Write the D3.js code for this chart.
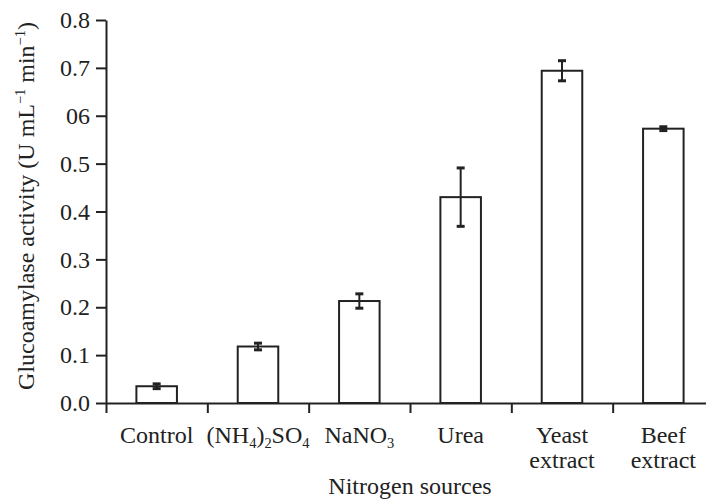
<!DOCTYPE html>
<html>
<head>
<meta charset="utf-8">
<script src="https://cdn.jsdelivr.net/npm/d3@7"></script>
<style>
  html, body { margin: 0; padding: 0; background: #fff; }
  svg { display: block; }
  text { font-family: "Liberation Serif", "Times New Roman", serif; fill: #222; }
</style>
</head>
<body>
<svg id="chart" width="706" height="499"></svg>
<script>
// ---- data ----
const categories = ["Control", "(NH4)2SO4", "NaNO3", "Urea", "Yeast extract", "Beef extract"];
const activity = [0.035, 0.118, 0.213, 0.430, 0.694, 0.573];
const errors = [0.005, 0.007, 0.015, 0.061, 0.021, 0.004];
const yTickValues = [0, 0.1, 0.2, 0.3, 0.4, 0.5, 0.6, 0.7, 0.8];
const yTickLabels = ["0.0", "0.1", "0.2", "0.3", "0.4", "0.5", "06", "0.7", "0.8"];
const xTitle = "Nitrogen sources";

// ---- layout ----
const svg = d3.select("#chart");
const mLeft = 106, mRight = 714, mTop = 20, mBottom = 403;
const ink = "#222";
const fs = 24;

const x = d3.scaleBand().domain(categories).range([mLeft, mRight])
  .paddingInner(0.6).paddingOuter(0.3);
const xEdge = d3.scaleLinear().domain([0, categories.length]).range([mLeft, mRight]);
const y = d3.scaleLinear().domain([0, 0.8]).range([mBottom, mTop]);

// x axis (ticks at category boundaries)
const gx = svg.append("g").attr("transform", `translate(0,${mBottom})`)
  .call(d3.axisBottom(xEdge).tickValues(d3.range(categories.length + 1))
    .tickFormat("").tickSize(10).tickSizeOuter(0));
gx.select(".domain").attr("stroke", ink).attr("stroke-width", 2);
gx.selectAll(".tick line").attr("stroke", ink).attr("stroke-width", 2);

// y axis
const gy = svg.append("g").attr("transform", `translate(${mLeft},0)`)
  .call(d3.axisLeft(y).tickValues(yTickValues)
    .tickFormat((d, i) => yTickLabels[i]).tickSize(10).tickPadding(6).tickSizeOuter(0));
gy.select(".domain").attr("stroke", ink).attr("stroke-width", 2);
gy.selectAll(".tick line").attr("stroke", ink).attr("stroke-width", 2);
gy.selectAll(".tick text").attr("font-size", fs)
  .attr("font-family", '"Liberation Serif", "Times New Roman", serif').attr("fill", ink);

// bars
svg.append("g").selectAll("rect").data(categories).join("rect")
  .attr("x", d => x(d))
  .attr("y", (d, i) => y(activity[i]))
  .attr("width", x.bandwidth())
  .attr("height", (d, i) => y(0) - y(activity[i]))
  .attr("fill", "#fff").attr("stroke", ink).attr("stroke-width", 2);

// error bars
const eb = svg.append("g").selectAll("g").data(categories).join("g");
eb.append("line")
  .attr("x1", d => x(d) + x.bandwidth() / 2).attr("x2", d => x(d) + x.bandwidth() / 2)
  .attr("y1", (d, i) => y(activity[i] + errors[i]))
  .attr("y2", (d, i) => y(activity[i] - errors[i]))
  .attr("stroke", ink).attr("stroke-width", 2);
[1, -1].forEach(s => {
  eb.append("line")
    .attr("x1", d => x(d) + x.bandwidth() / 2 - 4).attr("x2", d => x(d) + x.bandwidth() / 2 + 4)
    .attr("y1", (d, i) => y(activity[i] + s * errors[i]))
    .attr("y2", (d, i) => y(activity[i] + s * errors[i]))
    .attr("stroke", ink).attr("stroke-width", 3);
});

// category labels (digits in formulas as subscripts, words split onto lines)
function addRich(textSel, str) {
  const parts = str.match(/\d+|[^\d]+/g);
  let sub = false;
  parts.forEach(p => {
    const isDigit = /^\d+$/.test(p);
    const t = textSel.append("tspan").text(p);
    if (isDigit) {
      t.attr("font-size", fs * 0.6).attr("dy", sub ? 0 : 5);
      sub = true;
    } else if (sub) {
      t.attr("dy", -5);
      sub = false;
    }
  });
}
categories.forEach(c => {
  const cx = x(c) + x.bandwidth() / 2;
  const isFormula = /\d/.test(c);
  const lines = isFormula ? [c] : c.split(" ");
  lines.forEach((ln, j) => {
    const t = svg.append("text").attr("x", cx).attr("y", 443 + j * 25)
      .attr("text-anchor", "middle").attr("font-size", fs);
    addRich(t, ln);
  });
});

// axis titles
svg.append("text").attr("x", (mLeft + mRight) / 2).attr("y", 494)
  .attr("text-anchor", "middle").attr("font-size", fs).text(xTitle);

const yt = svg.append("text").attr("transform", "translate(34,206) rotate(-90)")
  .attr("text-anchor", "middle").attr("font-size", fs);
yt.append("tspan").text("Glucoamylase activity (U mL");
yt.append("tspan").text("\u22121").attr("font-size", fs * 0.6).attr("dy", -9);
yt.append("tspan").text(" min").attr("dy", 9);
yt.append("tspan").text("\u22121").attr("font-size", fs * 0.6).attr("dy", -9);
yt.append("tspan").text(")").attr("dy", 9);
</script>
</body>
</html>
